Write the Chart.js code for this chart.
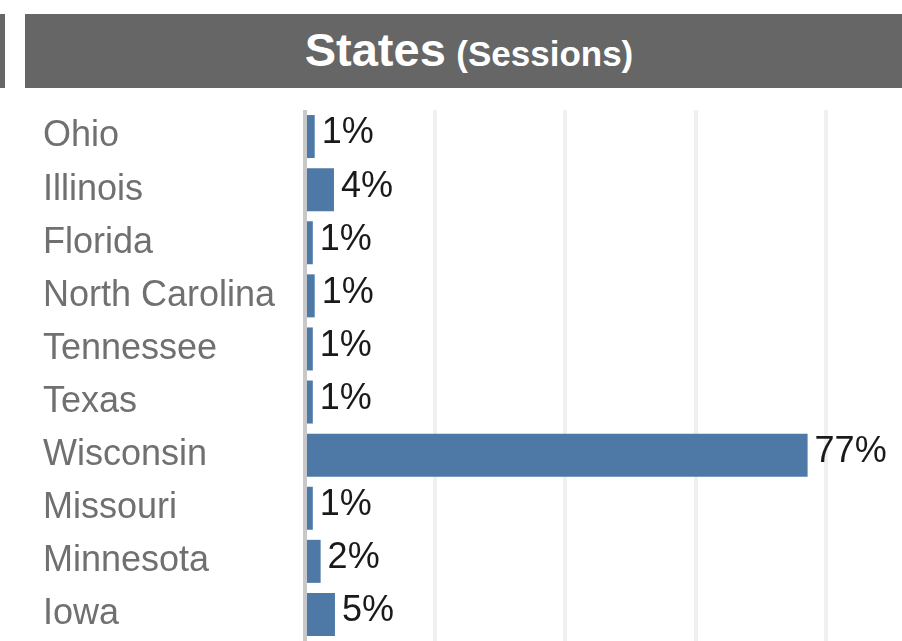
<!DOCTYPE html>
<html>
<head>
<meta charset="utf-8">
<script src="https://cdn.jsdelivr.net/npm/chart.js@4.4.1/dist/chart.umd.min.js"></script>
<style>
  html, body { margin: 0; padding: 0; background: #fff; overflow: hidden; }
  #wrap { position: relative; width: 902px; height: 641px; }
  #sideBlock { position: absolute; left: 0; top: 14px; width: 5px; height: 74px; background: #666666; }
  #header { position: absolute; left: 25px; top: 14px; width: 866px; padding-left: 11px; height: 74px; background: #666666;
            color: #fff; font-family: "Liberation Sans", Arial, sans-serif; font-weight: bold;
            text-align: center; line-height: 72px; white-space: nowrap; }
  #header .big { font-size: 47px; }
  #header .small { font-size: 35px; margin-left: 6px; }
  #c { position: absolute; left: 0; top: 0; }
</style>
</head>
<body>
<div id="wrap">
  <div id="sideBlock"></div>
  <div id="header"><span class="big">States</span> <span class="small">(Sessions)</span></div>
  <canvas id="c" width="902" height="641"></canvas>
</div>
<script>
// ---- data ----
const states = ["Ohio", "Illinois", "Florida", "North Carolina", "Tennessee", "Texas", "Wisconsin", "Missouri", "Minnesota", "Iowa"];
const sessionShare = [1.49, 4.45, 1.2, 1.49, 1.2, 1.2, 77.2, 1.2, 2.4, 4.6];
const gridSteps = [0, 20, 40, 60, 80];

const valueLabels = {
  id: 'valueLabels',
  afterDatasetsDraw(chart) {
    const ctx = chart.ctx;
    const meta = chart.getDatasetMeta(0);
    ctx.save();
    ctx.font = '36px "Liberation Sans", Arial, sans-serif';
    ctx.fillStyle = '#1a1a1a';
    ctx.textAlign = 'left';
    ctx.textBaseline = 'middle';
    meta.data.forEach((bar, i) => {
      const v = chart.data.datasets[0].data[i];
      ctx.fillText(Math.round(v) + '%', bar.x + 7, bar.y - 3);
    });
    ctx.restore();
  }
};

new Chart(document.getElementById('c'), {
  type: 'bar',
  data: {
    labels: states,
    datasets: [{
      data: sessionShare,
      backgroundColor: '#4e79a7',
      borderWidth: 0,
      categoryPercentage: 1.0,
      barPercentage: 0.81
    }]
  },
  options: {
    indexAxis: 'y',
    responsive: false,
    animation: false,
    layout: { padding: { top: 110, left: 43, right: 0, bottom: 0 } },
    plugins: { legend: { display: false }, tooltip: { enabled: false }, title: { display: false } },
    scales: {
      x: {
        min: 0,
        max: 91.7,
        afterFit: (s) => { s.height = 0; s.paddingLeft = 0; s.paddingRight = 0; },
        ticks: { display: false, stepSize: 20 },
        border: { display: false },
        grid: {
          drawTicks: false,
          lineWidth: 4,
          color: (c) => {
            const v = c.tick ? c.tick.value : null;
            if (v === 0) return '#c8c8c8';
            if (gridSteps.includes(v)) return '#f0f0f0';
            return 'rgba(0,0,0,0)';
          }
        }
      },
      y: {
        afterFit: (s) => { s.width = 262; s.paddingTop = 0; s.paddingBottom = 0; },
        border: { display: false },
        grid: { display: false, drawTicks: false },
        ticks: {
          crossAlign: 'far',
          padding: 0,
          color: '#707070',
          font: { family: '"Liberation Sans", Arial, sans-serif', size: 36 }
        }
      }
    }
  },
  plugins: [valueLabels]
});
</script>
</body>
</html>
